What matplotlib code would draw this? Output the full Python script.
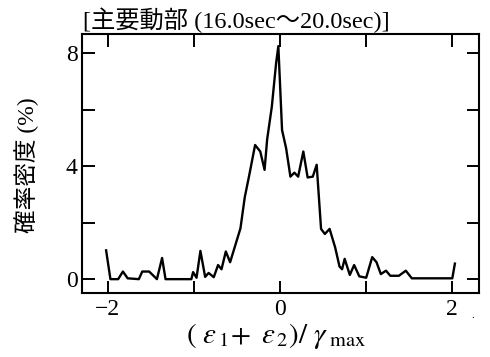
import matplotlib
matplotlib.use("Agg")
import matplotlib.pyplot as plt

# data
x_vals = [-2.02, -1.97, -1.88, -1.825, -1.77, -1.64, -1.60, -1.52, -1.43, -1.37,
          -1.33, -1.03, -1.01, -0.97, -0.925, -0.87, -0.83, -0.77, -0.72, -0.68,
          -0.63, -0.58, -0.51, -0.46, -0.41, -0.36, -0.29, -0.23, -0.18, -0.15,
          -0.096, -0.046, -0.02, 0.023, 0.07, 0.12, 0.166, 0.21, 0.27, 0.32,
          0.38, 0.425, 0.476, 0.52, 0.575, 0.64, 0.69, 0.72, 0.75, 0.81,
          0.86, 0.92, 1.0, 1.07, 1.12, 1.17, 1.23, 1.28, 1.38, 1.46,
          1.53, 2.0, 2.03]
y_vals = [1.02, 0.0, 0.0, 0.27, 0.03, 0.0, 0.27, 0.27, 0.0, 0.75,
          0.0, 0.0, 0.25, 0.05, 1.0, 0.08, 0.22, 0.07, 0.5, 0.35,
          0.98, 0.6, 1.3, 1.8, 2.9, 3.65, 4.75, 4.52, 3.87, 4.95,
          6.1, 7.65, 8.25, 5.28, 4.64, 3.63, 3.77, 3.63, 4.52, 3.6,
          3.63, 4.05, 1.78, 1.6, 1.78, 1.12, 0.45, 0.35, 0.72, 0.15,
          0.5, 0.1, 0.05, 0.78, 0.6, 0.18, 0.3, 0.12, 0.12, 0.3,
          0.03, 0.03, 0.55]

x_ticks = [-2, -1, 0, 1, 2]
x_ticklabels = ["\u22122", "", "0", "", "2"]
y_ticks = [0, 2, 4, 6, 8]
y_ticklabels = ["0", "", "4", "", "8"]

title_text = "[主要動部 (16.0sec～20.0sec)]"
ylabel_text = "確率密度 (%)"
xlabel_text = r"$(\ \varepsilon_{\,1}\!+\ \varepsilon_{\,2})/\ \gamma_{\ \mathrm{max}}$"

plt.rcParams['font.family'] = ['Liberation Serif', 'Noto Sans CJK JP', 'DejaVu Sans']
plt.rcParams['mathtext.fontset'] = 'stix'

fig = plt.figure(figsize=(4.9, 3.57), dpi=100)
ax = fig.add_axes([82/490, 1-293/357, (479-82)/490, (293-34)/357])

ax.plot(x_vals, y_vals, color='black', lw=1.7)

ax.set_xlim(-2.30, 2.31)
ax.set_ylim(-0.49, 8.68)
ax.set_xticks(x_ticks)
ax.set_xticklabels(x_ticklabels)
ax.set_yticks(y_ticks)
ax.set_yticklabels(y_ticklabels)
ax.tick_params(direction='in', length=9, width=1.4, top=True, right=True,
               labelsize=17, pad=4)
ax.tick_params(axis='y', pad=3)
for s in ax.spines.values():
    s.set_linewidth(1.5)

fig.text(83/490, 1-28/357, title_text, fontsize=17.5, ha='left', va='baseline')
fig.text(27/490, 1-165/357, ylabel_text, fontsize=17, rotation=90,
         ha='center', va='center')
fig.text(276/490, 1-343/357, xlabel_text, fontsize=21, ha='center', va='baseline')
fig.text(473/490, 1-318/357, ".", fontsize=8, ha='center', va='baseline')

fig.savefig("out.png", dpi=100)
